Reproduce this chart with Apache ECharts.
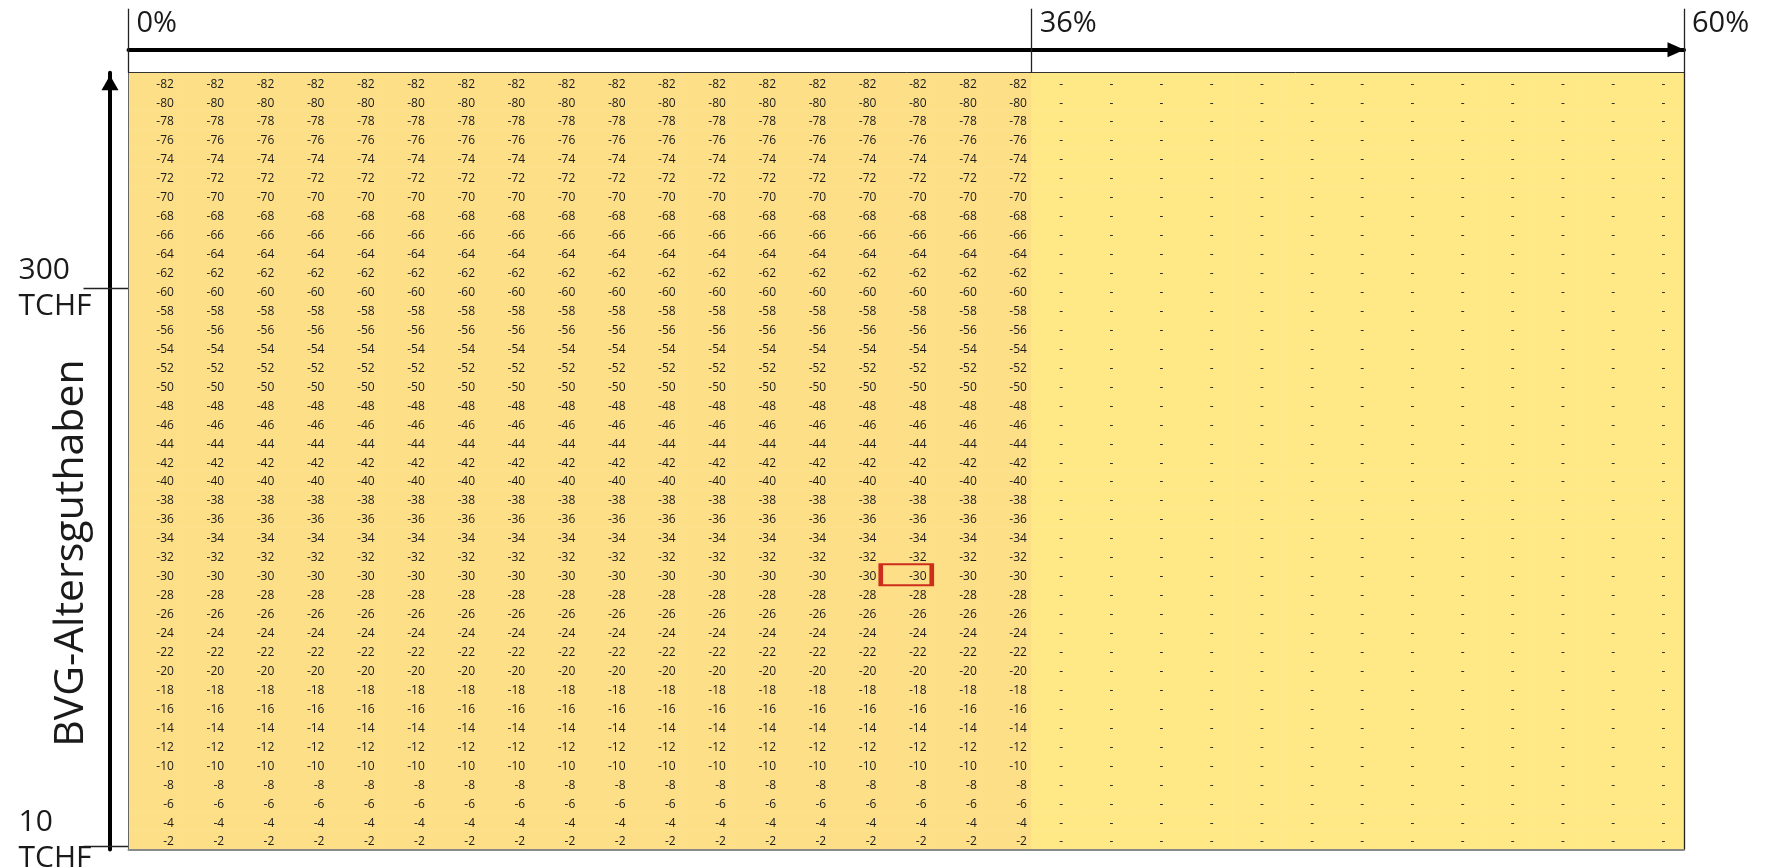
<!DOCTYPE html>
<html>
<head>
<meta charset="utf-8">
<script src="https://cdn.jsdelivr.net/npm/echarts@6/dist/echarts.min.js"></script>
<style>
  html, body { margin: 0; padding: 0; background: #fff; }
  #chart { width: 1765px; height: 868px; }
</style>
</head>
<body>
<div id="chart"></div>
<script>
// Spalten (Anteil), links -> rechts
var columns = ['0%', '2%', '4%', '6%', '8%', '10%', '12%', '14%', '16%', '18%', '20%',
    '22%', '24%', '26%', '28%', '30%', '32%', '34%', '36%', '38%', '40%', '42%', '44%',
    '46%', '48%', '50%', '52%', '54%', '56%', '58%', '60%'];
// Spalten, in denen Werte stehen (rechts davon nur "-")
var filledColumns = ['0%', '2%', '4%', '6%', '8%', '10%', '12%', '14%', '16%', '18%',
    '20%', '22%', '24%', '26%', '28%', '30%', '32%', '34%'];
// Zeilenwerte, von unten nach oben
var rowValues = [-2, -4, -6, -8, -10, -12, -14, -16, -18, -20, -22, -24, -26, -28, -30,
    -32, -34, -36, -38, -40, -42, -44, -46, -48, -50, -52, -54, -56, -58, -60, -62, -64,
    -66, -68, -70, -72, -74, -76, -78, -80, -82];
var emptyMark = '-';
var topTickLabels = ['0%', '36%', '60%'];
var yTickValues = [10, 300];
var yTickUnit = 'TCHF';
var yAxisName = 'BVG-Altersguthaben';
var highlightCell = ['30%', -30];

var chart = echarts.init(document.getElementById('chart'));

// Tabelle fuer die Heatmap aufbauen
var cells = [];
rowValues.forEach(function (v, yi) {
    columns.forEach(function (c, xi) {
        var filled = filledColumns.indexOf(c) >= 0;
        var item = { value: [xi, yi, filled ? v : 0, filled ? 1 : 0] };
        if (!filled) {
            item.label = { distance: 19 };
        }
        cells.push(item);
    });
});

// Tick-Positionen oben: Spaltengrenzen
var topTickPos = topTickLabels.map(function (lab, i) {
    return i === topTickLabels.length - 1 ? columns.length : columns.indexOf(lab);
});

var font = 'Open Sans';
var noTick = { show: false };
var noLabel = { show: false };
var noSplit = { show: false };

var option = {
    animation: false,
    grid: { left: 128.5, right: 81, top: 72.7, bottom: 18.5, outerBoundsMode: 'none' },
    visualMap: {
        show: false,
        type: 'piecewise',
        dimension: 3,
        seriesIndex: 0,
        pieces: [
            { value: 1, color: '#FDDF88' },
            { value: 0, color: '#FFE986' }
        ]
    },
    xAxis: [
        {
            type: 'category',
            data: columns,
            position: 'bottom',
            z: 5,
            axisLine: { show: true, onZero: false, lineStyle: { color: '#8a8a8a', width: 2 } },
            axisTick: noTick,
            axisLabel: noLabel,
            splitLine: noSplit
        },
        {
            type: 'value',
            position: 'top',
            min: 0,
            max: columns.length,
            z: 5,
            axisLine: { show: true, onZero: false, lineStyle: { color: '#333', width: 1 } },
            axisTick: {
                show: true,
                customValues: topTickPos,
                length: 64,
                lineStyle: { color: '#222', width: 1.3 }
            },
            axisLabel: {
                show: true,
                customValues: topTickPos,
                formatter: function (v) {
                    return topTickLabels[topTickPos.indexOf(v)];
                },
                align: 'left',
                verticalAlign: 'middle',
                margin: 49,
                padding: [0, 0, 0, 8],
                fontFamily: font,
                fontSize: 29,
                color: '#1a1a1a'
            },
            splitLine: noSplit
        },
        {
            type: 'value',
            position: 'top',
            offset: 23,
            min: 0,
            max: columns.length,
            axisLine: {
                show: true,
                onZero: false,
                symbol: ['none', 'triangle'],
                symbolSize: [15, 17],
                symbolOffset: [0, -8],
                lineStyle: { color: '#000', width: 4 }
            },
            axisTick: noTick,
            axisLabel: noLabel,
            splitLine: noSplit
        }
    ],
    yAxis: [
        {
            type: 'category',
            data: rowValues.map(String),
            position: 'left',
            z: 5,
            axisLine: { show: true, onZero: false, lineStyle: { color: '#666', width: 1 } },
            axisTick: noTick,
            axisLabel: noLabel,
            splitLine: noSplit
        },
        {
            type: 'value',
            position: 'left',
            min: 8.4,
            max: 412,
            axisLine: { show: false, onZero: false },
            axisTick: {
                show: true,
                customValues: yTickValues,
                length: 45,
                lineStyle: { color: '#222', width: 1.3 }
            },
            axisLabel: {
                show: true,
                customValues: yTickValues,
                formatter: function (v) {
                    // unteres Label sitzt etwas hoeher ueber dem Strich
                    var s = v + '\n' + yTickUnit;
                    return v === yTickValues[0] ? s + '\n{gap|}' : s;
                },
                align: 'left',
                verticalAlign: 'middle',
                margin: 110,
                fontFamily: font,
                fontSize: 30,
                lineHeight: 36,
                color: '#1a1a1a',
                rich: { gap: { lineHeight: 11, fontSize: 1 } }
            },
            splitLine: noSplit
        },
        {
            type: 'value',
            position: 'left',
            offset: 18.5,
            min: 0,
            max: 1,
            name: yAxisName,
            nameLocation: 'middle',
            nameGap: 18,
            nameRotate: 90,
            nameTextStyle: {
                fontFamily: font,
                fontSize: 41,
                color: '#1a1a1a',
                padding: [0, 184, 0, 0]
            },
            axisLine: {
                show: true,
                onZero: false,
                symbol: ['none', 'triangle'],
                symbolSize: [17, 15],
                symbolOffset: [0, -10],
                lineStyle: { color: '#000', width: 4 }
            },
            axisTick: noTick,
            axisLabel: noLabel,
            splitLine: noSplit
        },
        {
            type: 'value',
            position: 'right',
            min: 0,
            max: 1,
            z: 5,
            axisLine: { show: true, onZero: false, lineStyle: { color: '#222', width: 1.3 } },
            axisTick: noTick,
            axisLabel: noLabel,
            splitLine: noSplit
        }
    ],
    series: [
        {
            type: 'heatmap',
            xAxisIndex: 0,
            yAxisIndex: 0,
            data: cells,
            itemStyle: { borderWidth: 0 },
            label: {
                show: true,
                position: 'insideRight',
                distance: 5,
                offset: [0, 2],
                fontFamily: font,
                fontSize: 12,
                color: '#1a1a1a',
                formatter: function (p) {
                    return p.value[3] ? String(p.value[2]) : emptyMark;
                }
            },
            emphasis: { disabled: true }
        },
        {
            type: 'scatter',
            xAxisIndex: 0,
            yAxisIndex: 0,
            silent: true,
            z: 4,
            symbol: 'rect',
            symbolSize: [51, 21],
            itemStyle: { color: 'rgba(0,0,0,0)', borderColor: '#C00000', borderWidth: 3 },
            data: [[columns.indexOf(highlightCell[0]), rowValues.indexOf(highlightCell[1])]]
        }
    ]
};

chart.setOption(option);
window.addEventListener('resize', function () { chart.resize(); });
</script>
</body>
</html>
